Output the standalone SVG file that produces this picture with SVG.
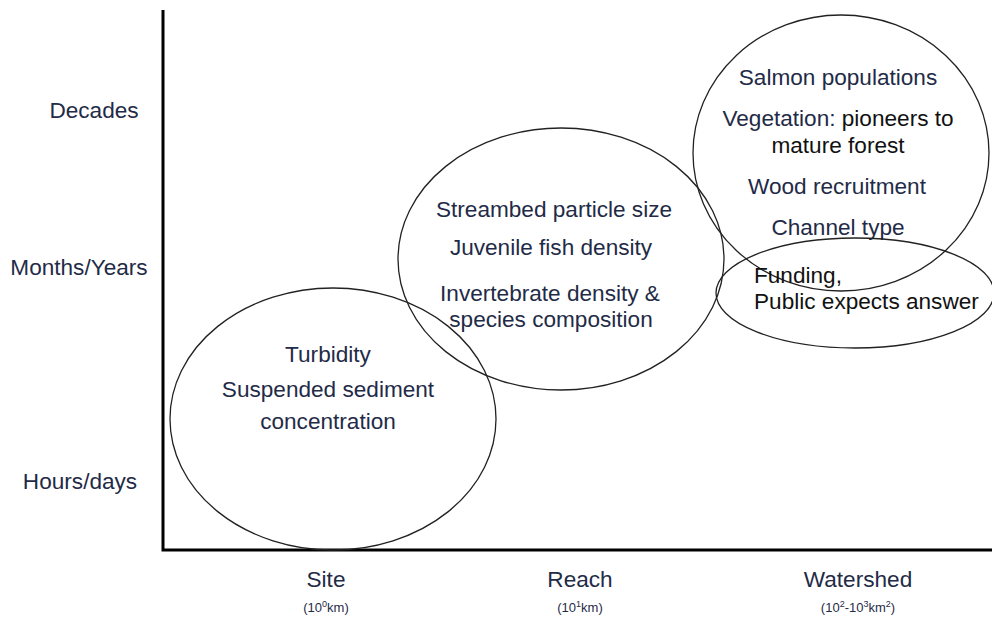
<svg xmlns="http://www.w3.org/2000/svg" width="992" height="619" viewBox="0 0 992 619">
<style>
.t{font-family:"Liberation Sans",Arial,sans-serif;font-size:22.6px;fill:#1f2b47;text-anchor:middle}
.k{fill:#111}
.s{font-size:13px}
.sup{font-size:9px}
.e{fill:none;stroke:#222;stroke-width:1.3}
.ax{stroke:#000;stroke-width:3;fill:none}
</style>
<rect width="992" height="619" fill="#fff"/>
<g id="axes">
<polyline class="ax" points="163,10 163,550 992,550"/>
</g>
<g id="y-labels">
<text class="t" x="94" y="118">Decades</text>
<text class="t" x="79" y="275">Months/Years</text>
<text class="t" x="80" y="489">Hours/days</text>
</g>
<g id="x-labels">
<text class="t" x="326" y="587">Site</text>
<text class="t s" x="326" y="612">(10<tspan class="sup" dy="-5">0</tspan><tspan dy="5">km)</tspan></text>
<text class="t" x="580" y="587">Reach</text>
<text class="t s" x="580" y="612">(10<tspan class="sup" dy="-5">1</tspan><tspan dy="5">km)</tspan></text>
<text class="t" x="858" y="587">Watershed</text>
<text class="t s" x="858" y="612">(10<tspan class="sup" dy="-5">2</tspan><tspan dy="5">-10</tspan><tspan class="sup" dy="-5">3</tspan><tspan dy="5">km</tspan><tspan class="sup" dy="-5">2</tspan><tspan dy="5">)</tspan></text>
</g>
<g id="site">
<ellipse class="e" cx="333" cy="419" rx="163" ry="131"/>
<text class="t" x="328" y="362">Turbidity</text>
<text class="t" x="328" y="397">Suspended sediment</text>
<text class="t" x="328" y="429">concentration</text>
</g>
<g id="reach">
<ellipse class="e" cx="561" cy="259" rx="163" ry="131"/>
<text class="t" x="554" y="217">Streambed particle size</text>
<text class="t" x="551" y="255">Juvenile fish density</text>
<text class="t" x="550" y="301">Invertebrate density &amp;</text>
<text class="t" x="551" y="327">species composition</text>
</g>
<g id="watershed">
<ellipse class="e" cx="841" cy="153" rx="148" ry="138"/>
<text class="t" x="838" y="85">Salmon populations</text>
<text class="t" x="838" y="126">Vegetation: <tspan class="k">pioneers to</tspan></text>
<text class="t k" x="838" y="153">mature forest</text>
<text class="t" x="837" y="194">Wood recruitment</text>
<text class="t" x="838" y="235">Channel type</text>
</g>
<g id="funding">
<ellipse class="e" cx="855" cy="293" rx="139" ry="55"/>
<text class="t k" x="754" y="283" style="text-anchor:start">Funding,</text>
<text class="t k" x="754" y="309" style="text-anchor:start">Public expects answer</text>
</g>
</svg>
